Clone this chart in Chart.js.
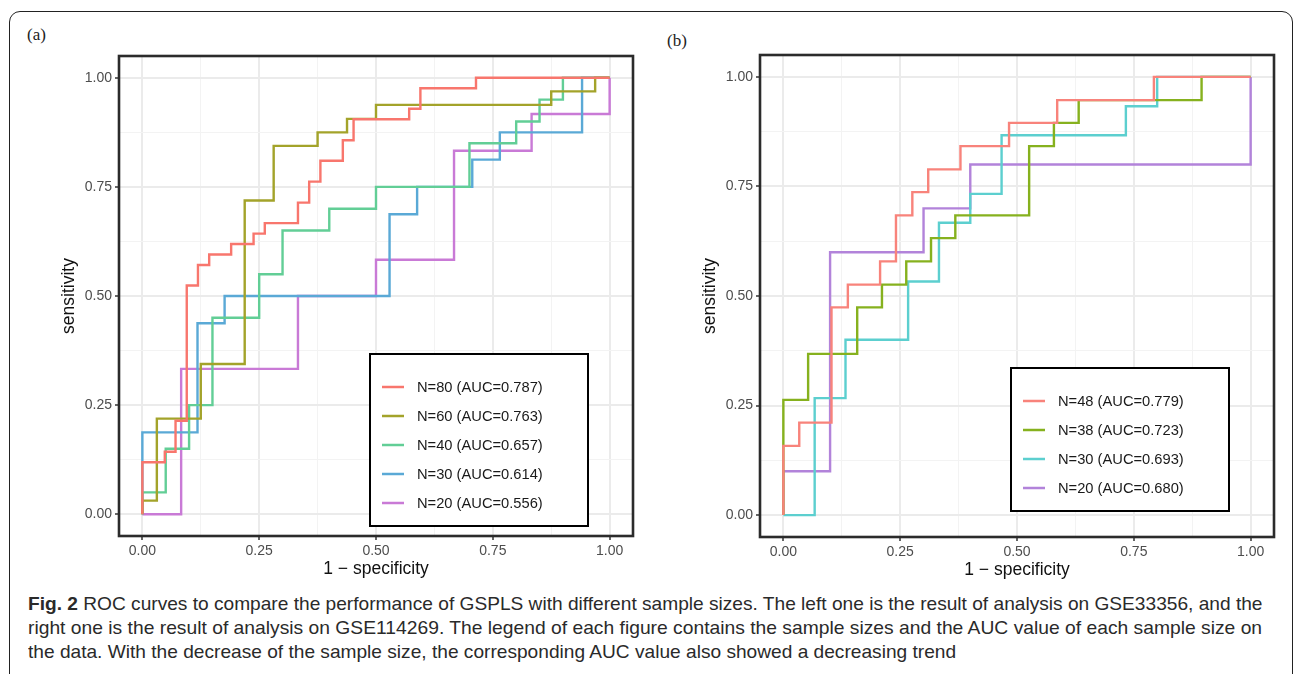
<!DOCTYPE html>
<html>
<head>
<meta charset="utf-8">
<style>
  body { margin: 0; width: 1295px; height: 674px; overflow: hidden; background: #fff; position: relative; }
  .frame { position: absolute; left: 9px; top: 11px; width: 1284px; height: 720px; box-sizing: border-box;
           border: 1.5px solid #222; border-radius: 11px; }
  canvas { position: absolute; }
  .tag { position: absolute; font-family: "Liberation Serif", "DejaVu Serif", serif; font-size: 17px; color: #222; }
  .cap { position: absolute; left: 28px; white-space: nowrap; transform-origin: 0 50%;
         font-family: "Liberation Sans", Arial, sans-serif; font-size: 19px; color: #2a2a2a; }
  .cap b { font-weight: bold; }
</style>
</head>
<body>
<div class="frame"></div>
<div class="tag" style="left:27px; top:25px;">(a)</div>
<div class="tag" style="left:667px; top:31px;">(b)</div>
<canvas id="chartA" width="643" height="584" style="left:0px; top:0px;"></canvas>
<canvas id="chartB" width="643" height="586" style="left:641px; top:-1px;"></canvas>

<div class="cap" id="cap1" style="top:593px;"><b>Fig. 2</b> ROC curves to compare the performance of GSPLS with different sample sizes. The left one is the result of analysis on GSE33356, and the</div>
<div class="cap" id="cap2" style="top:617px;">right one is the result of analysis on GSE114269. The legend of each figure contains the sample sizes and the AUC value of each sample size on</div>
<div class="cap" id="cap3" style="top:641px;">the data. With the decrease of the sample size, the corresponding AUC value also showed a decreasing trend</div>

<script src="https://cdn.jsdelivr.net/npm/chart.js"></script>
<script>
// ---- data (1 - specificity / sensitivity step corners) ----
// panel (a)
const fprA80 = [0, 0, 0.048, 0.071, 0.095, 0.119, 0.143, 0.190, 0.238, 0.262, 0.333, 0.357, 0.381, 0.429, 0.452, 0.571, 0.595, 0.714, 1];
const tprA80 = [0, 0.119, 0.143, 0.214, 0.524, 0.571, 0.595, 0.619, 0.643, 0.667, 0.714, 0.762, 0.810, 0.857, 0.905, 0.929, 0.976, 1, 1];
const fprA60 = [0, 0, 0.031, 0.125, 0.219, 0.281, 0.375, 0.438, 0.5, 0.875, 0.969, 1];
const tprA60 = [0, 0.031, 0.219, 0.344, 0.719, 0.844, 0.875, 0.906, 0.938, 0.969, 1, 1];
const fprA40 = [0, 0, 0.05, 0.1, 0.15, 0.25, 0.3, 0.4, 0.5, 0.7, 0.8, 0.85, 0.9, 1];
const tprA40 = [0, 0.05, 0.15, 0.25, 0.45, 0.55, 0.65, 0.7, 0.75, 0.85, 0.9, 0.95, 1, 1];
const fprA30 = [0, 0, 0.118, 0.176, 0.529, 0.588, 0.706, 0.765, 0.941, 1];
const tprA30 = [0, 0.1875, 0.4375, 0.5, 0.6875, 0.75, 0.8125, 0.875, 1, 1];
const fprA20 = [0, 0.083, 0.333, 0.5, 0.667, 0.833, 1];
const tprA20 = [0, 0.333, 0.5, 0.583, 0.833, 0.917, 1];
const labelsA = ['N=80 (AUC=0.787)', 'N=60 (AUC=0.763)', 'N=40 (AUC=0.657)', 'N=30 (AUC=0.614)', 'N=20 (AUC=0.556)'];
const colorsA = ['#F8766D', '#A3A32A', '#62CE96', '#5AA9D6', '#C97AD6'];

// panel (b)
const fprB48 = [0, 0, 0.034, 0.103, 0.138, 0.207, 0.241, 0.276, 0.310, 0.379, 0.483, 0.586, 0.793, 1];
const tprB48 = [0, 0.158, 0.211, 0.474, 0.526, 0.579, 0.684, 0.737, 0.789, 0.842, 0.895, 0.947, 1, 1];
const fprB38 = [0, 0, 0.053, 0.158, 0.211, 0.263, 0.316, 0.368, 0.526, 0.579, 0.632, 0.895, 1];
const tprB38 = [0, 0.263, 0.368, 0.474, 0.526, 0.579, 0.632, 0.684, 0.842, 0.895, 0.947, 1, 1];
const fprB30 = [0, 0.067, 0.133, 0.267, 0.333, 0.4, 0.467, 0.733, 0.8, 1];
const tprB30 = [0, 0.267, 0.4, 0.533, 0.667, 0.733, 0.867, 0.933, 1, 1];
const fprB20 = [0, 0, 0.1, 0.3, 0.4, 1];
const tprB20 = [0, 0.1, 0.6, 0.7, 0.8, 1];
const labelsB = ['N=48 (AUC=0.779)', 'N=38 (AUC=0.723)', 'N=30 (AUC=0.693)', 'N=20 (AUC=0.680)'];
const colorsB = ['#F8837B', '#86B11E', '#5CCFCF', '#B283DA'];

// axes
const gridValues = [0, 0.125, 0.25, 0.375, 0.5, 0.625, 0.75, 0.875, 1];
const majorValues = [0, 0.25, 0.5, 0.75, 1];
const tickLabels = ['0.00', '0.25', '0.50', '0.75', '1.00'];

const FONT = '"Liberation Sans", Arial, sans-serif';
const isMajor = v => majorValues.some(m => Math.abs(m - v) < 1e-6);

function toPoints(xs, ys) {
    return xs.map((x, i) => ({ x: x, y: ys[i] }));
}

function axis(title, isX) {
    return {
        type: 'linear',
        min: -0.05,
        max: 1.05,
        afterBuildTicks: s => { s.ticks = gridValues.map(v => ({ value: v })); },
        afterFit: s => { if (isX) s.height = 48; else s.width = 64; },
        ticks: {
            autoSkip: false,
            maxRotation: 0,
            padding: 3,
            color: '#4d4d4d',
            font: { family: FONT, size: 14 },
            callback: v => {
                const i = majorValues.findIndex(m => Math.abs(m - v) < 1e-6);
                return i >= 0 ? tickLabels[i] : '';
            }
        },
        grid: {
            color: c => isMajor(c.tick.value) ? '#EBEBEB' : '#F3F3F3',
            lineWidth: c => isMajor(c.tick.value) ? 2 : 1,
            tickLength: 4,
            tickWidth: 1.5,
            tickColor: c => isMajor(c.tick.value) ? '#333' : 'rgba(0,0,0,0)'
        },
        border: { display: false },
        title: {
            display: true,
            text: title,
            color: '#111',
            font: { family: FONT, size: 17.5 },
            padding: { top: 4, bottom: 4 }
        }
    };
}

// panel border + legend box drawn inside the plot
const panelDecor = {
    id: 'panelDecor',
    afterDraw(chart, args, opts) {
        const { ctx, chartArea } = chart;
        ctx.save();
        ctx.lineWidth = 2.6;
        ctx.strokeStyle = '#2b2b2b';
        ctx.strokeRect(chartArea.left, chartArea.top, chartArea.right - chartArea.left, chartArea.bottom - chartArea.top);

        const n = chart.data.datasets.length;
        const x = chartArea.left + opts.left;
        const y = chartArea.top + opts.top;
        const h = 33 + (n - 1) * 29 + 23;
        ctx.fillStyle = '#fff';
        ctx.fillRect(x, y, 218, h);
        ctx.lineWidth = 2;
        ctx.strokeStyle = '#000';
        ctx.strokeRect(x, y, 218, h);
        ctx.font = '14.7px ' + FONT;
        ctx.textBaseline = 'middle';
        chart.data.datasets.forEach((ds, i) => {
            const ly = y + 33 + i * 29;
            ctx.strokeStyle = ds.borderColor;
            ctx.lineWidth = 2.5;
            ctx.beginPath();
            ctx.moveTo(x + 12, ly);
            ctx.lineTo(x + 34, ly);
            ctx.stroke();
            ctx.fillStyle = '#1a1a1a';
            ctx.fillText(ds.label, x + 47, ly + 0.5);
        });
        ctx.restore();
    }
};

function makeChart(id, series, labels, colors, legendPos) {
    new Chart(document.getElementById(id), {
        type: 'scatter',
        data: {
            datasets: series.map((s, i) => ({
                label: labels[i],
                data: toPoints(s[0], s[1]),
                showLine: true,
                stepped: 'before',
                borderColor: colors[i],
                backgroundColor: colors[i],
                borderWidth: 2.4,
                pointRadius: 0,
                fill: false
            }))
        },
        options: {
            responsive: false,
            animation: false,
            devicePixelRatio: 1,
            layout: { padding: { left: 55, top: 56, right: 10, bottom: 0 } },
            scales: {
                x: axis('1 \u2212 specificity', true),
                y: axis('sensitivity', false)
            },
            plugins: {
                legend: { display: false },
                tooltip: { enabled: false },
                panelDecor: legendPos
            }
        },
        plugins: [panelDecor]
    });
}

makeChart('chartA',
    [[fprA80, tprA80], [fprA60, tprA60], [fprA40, tprA40], [fprA30, tprA30], [fprA20, tprA20]],
    labelsA, colorsA, { left: 251, top: 298 });
makeChart('chartB',
    [[fprB48, tprB48], [fprB38, tprB38], [fprB30, tprB30], [fprB20, tprB20]],
    labelsB, colorsB, { left: 251, top: 313 });

// squeeze caption lines to the reference width (condensed face in the original)
const w1 = document.getElementById('cap1').scrollWidth;
const k = 1234 / w1;
['cap1', 'cap2', 'cap3'].forEach(id => {
    const el = document.getElementById(id);
    const s = id === 'cap2' ? 1234 / el.scrollWidth : k;
    el.style.transform = 'scaleX(' + s + ')';
});
</script>
</body>
</html>
